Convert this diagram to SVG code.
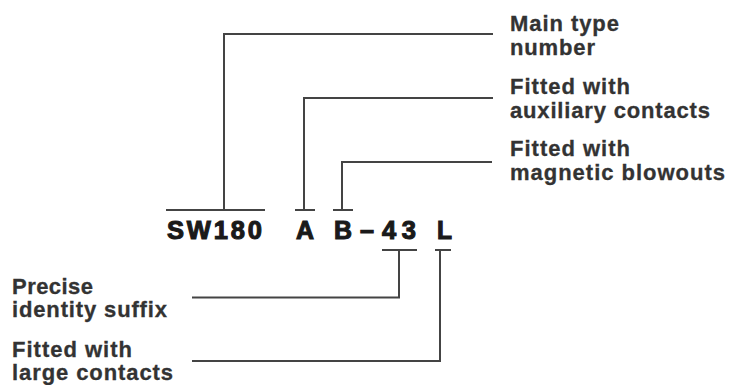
<svg xmlns="http://www.w3.org/2000/svg" width="729" height="385" viewBox="0 0 729 385">
<style>
.lbl{font-family:"Liberation Sans",Arial,sans-serif;font-weight:bold;font-size:22px;fill:#333;stroke:#333;stroke-width:0.3}
.code{font-family:"Liberation Sans",Arial,sans-serif;font-weight:bold;font-size:25.5px;fill:#1a1a1a;stroke:#1a1a1a;stroke-width:1.1}
.ln{fill:none;stroke:#444;stroke-width:2}
</style>
<rect width="729" height="385" fill="#fff"/>
<g id="connectors">
<path class="ln" d="M493 34 H224 V210"/>
<path class="ln" d="M166 210 H265"/>
<path class="ln" d="M493 98 H304 V210"/>
<path class="ln" d="M295 210 H315"/>
<path class="ln" d="M492 162 H342 V210"/>
<path class="ln" d="M333 210 H353"/>
<path class="ln" d="M382 250 H417"/>
<path class="ln" d="M399 250 V297.5 H192"/>
<path class="ln" d="M435 250 H451"/>
<path class="ln" d="M440 250 V361 H192"/>
</g>
<g id="code">
<text class="code" x="167" y="239" textLength="95" lengthAdjust="spacing">SW180</text>
<text class="code" x="296" y="239" textLength="18" lengthAdjust="spacingAndGlyphs">A</text>
<text class="code" x="334" y="239" textLength="18" lengthAdjust="spacingAndGlyphs">B</text>
<text class="code" x="360" y="239" textLength="14" lengthAdjust="spacingAndGlyphs">–</text>
<text class="code" x="382" y="239" textLength="34" lengthAdjust="spacing">43</text>
<text class="code" x="437" y="239" textLength="15" lengthAdjust="spacingAndGlyphs">L</text>
</g>
<g id="main-type">
<text class="lbl" x="510" y="31" textLength="109">Main type</text>
<text class="lbl" x="510" y="55" textLength="85">number</text>
</g>
<g id="aux-contacts">
<text class="lbl" x="510" y="94" textLength="120">Fitted with</text>
<text class="lbl" x="510" y="118" textLength="200">auxiliary contacts</text>
</g>
<g id="blowouts">
<text class="lbl" x="510" y="156" textLength="120">Fitted with</text>
<text class="lbl" x="510" y="180" textLength="215">magnetic blowouts</text>
</g>
<g id="suffix">
<text class="lbl" x="12" y="294" textLength="81">Precise</text>
<text class="lbl" x="12" y="317" textLength="155">identity suffix</text>
</g>
<g id="large-contacts">
<text class="lbl" x="12" y="357" textLength="120">Fitted with</text>
<text class="lbl" x="12" y="380" textLength="161">large contacts</text>
</g>
</svg>
